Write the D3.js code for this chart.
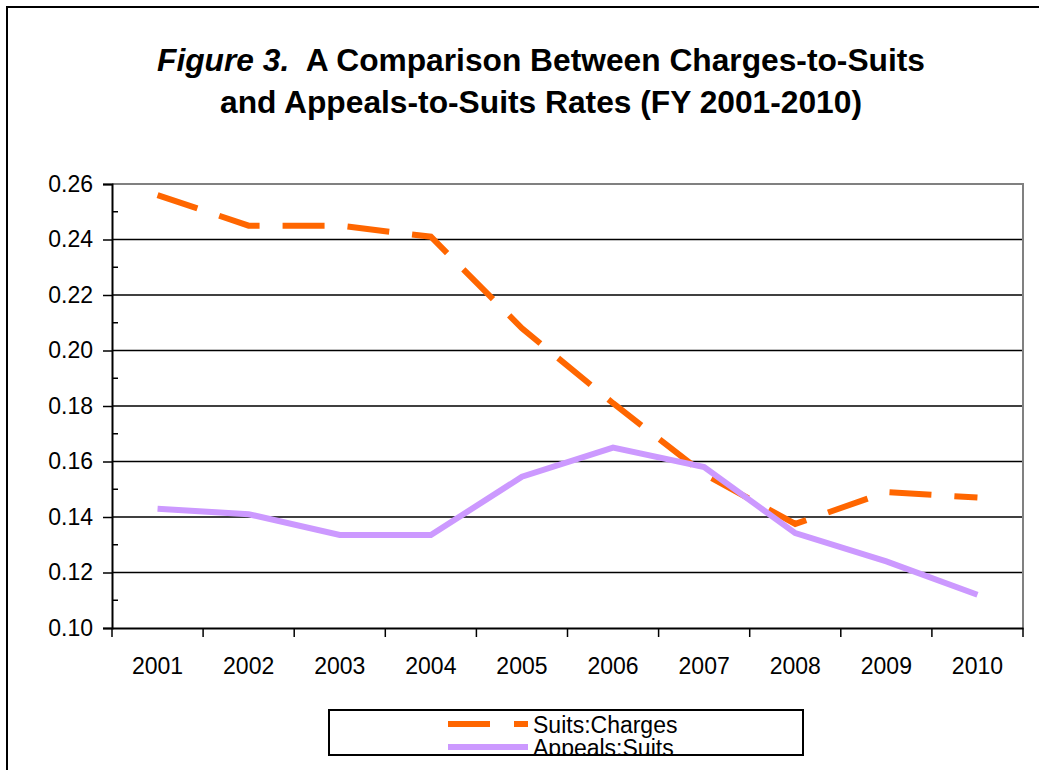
<!DOCTYPE html>
<html>
<head>
<meta charset="utf-8">
<script src="https://cdn.jsdelivr.net/npm/d3@7"></script>
<style>
  body { margin: 0; background: #fff; }
  text { font-family: "Liberation Sans", Arial, sans-serif; }
</style>
</head>
<body>
<svg id="chart" width="1039" height="770"></svg>
<script>
// data
var years = ["2001", "2002", "2003", "2004", "2005", "2006", "2007", "2008", "2009", "2010"];
var suitsCharges = [0.256, 0.245, 0.245, 0.241, 0.208, 0.181, 0.1555, 0.1375, 0.149, 0.147];
var appealsSuits = [0.143, 0.141, 0.1335, 0.1335, 0.1545, 0.165, 0.158, 0.1342, 0.124, 0.112];
var yTicks = [0.10, 0.12, 0.14, 0.16, 0.18, 0.20, 0.22, 0.24, 0.26];
var yMinor = [0.11, 0.13, 0.15, 0.17, 0.19, 0.21, 0.23, 0.25];

var ORANGE = "#ff6600";
var LILAC = "#cc99ff";

var marge = {left: 112, right: 1023, top: 184, bottom: 628};
var svg = d3.select("#chart");

// outer chart frame (runs off the right and bottom of the window)
svg.append("rect")
    .attr("x", 7).attr("y", 7)
    .attr("width", 1100).attr("height", 900)
    .attr("fill", "white")
    .attr("stroke", "black")
    .attr("stroke-width", 2);

// title, stretched to the width it has in the source
var title = svg.append("g")
    .attr("font-size", 31)
    .attr("font-weight", "bold");
var l1 = title.append("text")
    .attr("x", 157).attr("y", 71)
    .attr("textLength", 768)
    .attr("lengthAdjust", "spacingAndGlyphs");
l1.append("tspan").attr("font-style", "italic").text("Figure 3.");
l1.append("tspan").text("\u00a0 A Comparison Between Charges-to-Suits");
title.append("text")
    .attr("x", 220).attr("y", 113)
    .attr("textLength", 642)
    .attr("lengthAdjust", "spacingAndGlyphs")
    .text("and Appeals-to-Suits Rates (FY 2001-2010)");

var x = d3.scaleBand().domain(years).range([marge.left, marge.right]);
var y = d3.scaleLinear().domain([0.10, 0.26]).range([marge.bottom, marge.top]);

// gridlines
svg.append("g").selectAll("line")
    .data(yTicks.filter(function(d){ return d > 0.101 && d < 0.259; }))
    .enter().append("line")
    .attr("x1", marge.left).attr("x2", marge.right)
    .attr("y1", function(d){ return y(d); })
    .attr("y2", function(d){ return y(d); })
    .attr("stroke", "black")
    .attr("stroke-width", 1.5);

// plot area border top/right (grey)
svg.append("path")
    .attr("d", "M" + marge.left + "," + y(0.26) + "H" + marge.right + "V" + marge.bottom)
    .attr("fill", "none")
    .attr("stroke", "#808080")
    .attr("stroke-width", 2);

// y axis
var yAxis = d3.axisLeft(y)
    .tickValues(yTicks)
    .tickFormat(d3.format(".2f"))
    .tickSize(9)
    .tickPadding(10);
var gy = svg.append("g")
    .attr("transform", "translate(" + marge.left + ",0)")
    .call(yAxis);
gy.select(".domain").attr("stroke", "black").attr("stroke-width", 2);
gy.selectAll(".tick line").attr("stroke", "black").attr("stroke-width", 1.5);
gy.selectAll(".tick text")
    .attr("font-size", 23)
    .attr("font-family", "Liberation Sans, Arial, sans-serif")
    .attr("fill", "black");

// minor ticks, inside
svg.append("g").selectAll("line")
    .data(yMinor)
    .enter().append("line")
    .attr("x1", marge.left).attr("x2", marge.left + 6)
    .attr("y1", function(d){ return y(d); })
    .attr("y2", function(d){ return y(d); })
    .attr("stroke", "black")
    .attr("stroke-width", 1.5);

// x axis: ticks sit between categories
var gx = svg.append("g")
    .attr("transform", "translate(0," + marge.bottom + ")")
    .call(d3.axisBottom(x).tickSize(0).tickPadding(30));
gx.select(".domain").attr("stroke", "black").attr("stroke-width", 2);
gx.selectAll(".tick text")
    .attr("font-size", 23)
    .attr("font-family", "Liberation Sans, Arial, sans-serif")
    .attr("fill", "black");
gx.selectAll(".bound")
    .data(years.concat(["end"]))
    .enter().append("line")
    .attr("class", "bound")
    .attr("x1", function(d, i){ return marge.left + i * x.bandwidth(); })
    .attr("x2", function(d, i){ return marge.left + i * x.bandwidth(); })
    .attr("y1", 0).attr("y2", 9)
    .attr("stroke", "black")
    .attr("stroke-width", 1.5);

// lines
var line = d3.line()
    .x(function(d, i){ return x(years[i]) + x.bandwidth() / 2; })
    .y(function(d){ return y(d); });

svg.append("path")
    .datum(suitsCharges)
    .attr("d", line)
    .attr("fill", "none")
    .attr("stroke", ORANGE)
    .attr("stroke-width", 6)
    .attr("stroke-dasharray", "42,23");

svg.append("path")
    .datum(appealsSuits)
    .attr("d", line)
    .attr("fill", "none")
    .attr("stroke", LILAC)
    .attr("stroke-width", 6);

// legend (second entry is cut off by its box, as in the source)
svg.append("defs").append("clipPath").attr("id", "legclip")
    .append("rect").attr("x", 329).attr("y", 710).attr("width", 474).attr("height", 45);
var leg = svg.append("g");
leg.append("rect")
    .attr("x", 329).attr("y", 710)
    .attr("width", 474).attr("height", 45)
    .attr("fill", "white")
    .attr("stroke", "black")
    .attr("stroke-width", 2);
var legItems = [
    {name: "Suits:Charges", color: ORANGE, dash: "42,24"},
    {name: "Appeals:Suits", color: LILAC, dash: null}
];
var li = leg.append("g").attr("clip-path", "url(#legclip)")
    .selectAll("g").data(legItems).enter().append("g")
    .attr("transform", function(d, i){ return "translate(0," + (724 + i * 23) + ")"; });
li.append("line")
    .attr("x1", 448).attr("x2", 528)
    .attr("stroke", function(d){ return d.color; })
    .attr("stroke-width", 6)
    .attr("stroke-dasharray", function(d){ return d.dash; });
li.append("text")
    .attr("x", 533).attr("y", 9)
    .attr("font-size", 23)
    .text(function(d){ return d.name; });
</script>
</body>
</html>
